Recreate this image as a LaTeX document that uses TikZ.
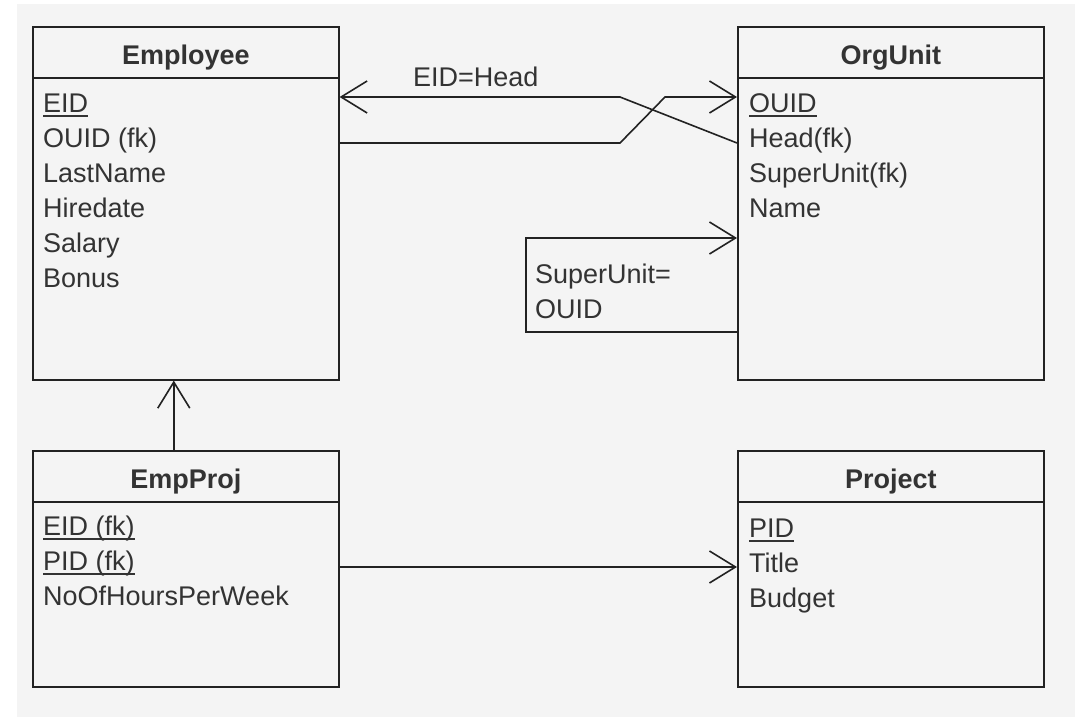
\documentclass[tikz,border=0pt]{standalone}
\usepackage{fontspec}
\setmainfont{Liberation Sans}
\usetikzlibrary{calc,arrows.meta}

\definecolor{bggray}{HTML}{F4F4F4}
\definecolor{ink}{HTML}{222222}
\definecolor{txt}{HTML}{333333}

\newlength\pkwd
\newcommand\pkey[1]{\settowidth\pkwd{#1}\rlap{\rule[-5pt]{\pkwd}{1.8pt}}#1}
\newcommand\erfont{\fontsize{27}{35}\selectfont}

\tikzset{
  entity/.style={draw=ink, line width=1.6pt, minimum width=306pt, anchor=north west, inner sep=0pt},
  title/.style={font=\erfont\bfseries, text=txt, anchor=base, inner sep=0pt},
  attr/.style={text=txt, anchor=base west, inner sep=0pt},
  rel/.style={draw=ink, line width=1.6pt, -{Straight Barb[length=26pt,width=32pt]}},
}

\begin{document}
\begin{tikzpicture}[x=1pt, y=-1pt, font=\erfont]
		\useasboundingbox (0,0) rectangle (1077,717);
		\fill[white] (0,0) rectangle (1077,717);
		\fill[bggray] (17,4) rectangle (1075,717);

		% entity boxes
		\node[entity, minimum height=353pt] (emp) at (32,26) {};
		\node[entity, minimum height=353pt] (org) at (737,26) {};
		\node[entity, minimum height=236pt] (empproj) at (32,450) {};
		\node[entity, minimum height=236pt] (proj) at (737,450) {};

		\foreach \e in {emp, org, empproj, proj} {
			\draw[ink, line width=1.6pt] ($(\e.north west)+(0,52)$) -- ($(\e.north east)+(0,52)$);
		}

		\node[title] (empT) at ($(emp.north)+(0,39)$) {Employee};
		\node[title] (orgT) at ($(org.north)+(0,39)$) {OrgUnit};
		\node[title] (empprojT) at ($(empproj.north)+(0,38)$) {EmpProj};
		\node[title] (projT) at ($(proj.north)+(0,38)$) {Project};

		% attributes
		\node[attr] (emp1) at (43,112) {\pkey{EID}};
		\foreach \a [count=\i from 2] in {OUID (fk), LastName, Hiredate, Salary, Bonus} {
			\node[attr] (emp\i) at (43,77+35*\i) {\a};
		}

		\node[attr] (org1) at (749,112) {\pkey{OUID}};
		\foreach \a [count=\i from 2] in {Head(fk), SuperUnit(fk), Name} {
			\node[attr] (org\i) at (749,77+35*\i) {\a};
		}

		\node[attr] (empproj1) at (43,535) {\pkey{EID (fk)}};
		\node[attr] (empproj2) at (43,570) {\pkey{PID (fk)}};
		\node[attr] (empproj3) at (43,605) {NoOfHoursPerWeek};

		\node[attr] (proj1) at (749,537) {\pkey{PID}};
		\node[attr] (proj2) at (749,572) {Title};
		\node[attr] (proj3) at (749,607) {Budget};

		% relationships
		\coordinate (headBend) at (620,97);
		\coordinate (headFk) at (737,143);
		\draw[rel] (headFk) -- (headBend) -- (emp.east |- headBend);
		\node[attr] (headLbl) at (413,86) {EID=Head};

		\coordinate (ouBendA) at (620,143);
		\coordinate (ouBendB) at (665,97);
		\draw[rel] (emp.east |- ouBendA) -- (ouBendA) -- (ouBendB) -- (org.west |- ouBendB);

		\coordinate (loopLow) at (526,332);
		\coordinate (loopHigh) at (526,238);
		\draw[rel] (org.west |- loopLow) -- (loopLow) -- (loopHigh) -- (org.west |- loopHigh);
		\node[attr] (loopLbl1) at (535,283) {SuperUnit=};
		\node[attr] (loopLbl2) at (535,318) {OUID};

		\draw[rel] ($(empproj.north)+(-12,0)$) -- ($(emp.south)+(-12,0)$);

		\coordinate (workLine) at (0,567);
		\draw[rel] (empproj.east |- workLine) -- (proj.west |- workLine);
	\end{tikzpicture}
\end{document}
